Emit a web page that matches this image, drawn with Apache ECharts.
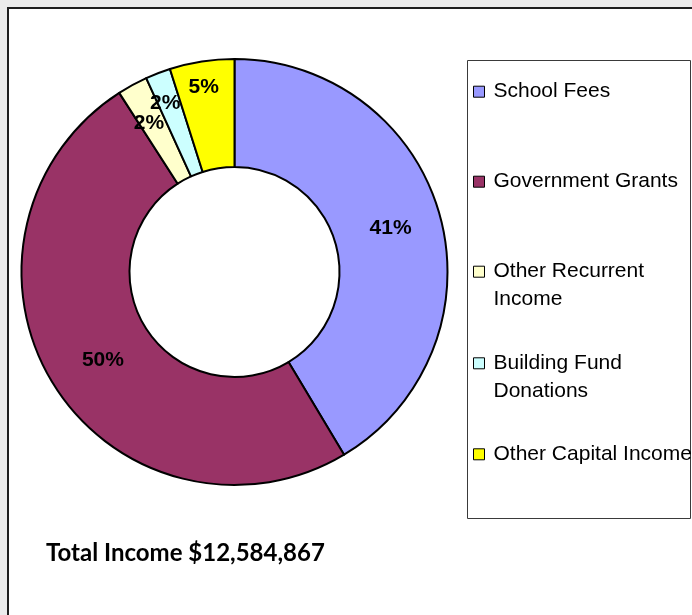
<!DOCTYPE html>
<html>
<head>
<meta charset="utf-8">
<script src="https://cdn.jsdelivr.net/npm/echarts@6/dist/echarts.min.js"></script>
<style>
html,body{margin:0;padding:0;background:#ececec;}
#c{width:692px;height:615px;}
</style>
</head>
<body>
<div id="c"></div>
<script>
// Data
var categories = ['School Fees', 'Government Grants', 'Other Recurrent Income', 'Building Fund Donations', 'Other Capital Income'];
var legendLabels = ['School Fees', 'Government Grants', 'Other Recurrent\nIncome', 'Building Fund\nDonations', 'Other Capital Income'];
var shares = [41.4, 49.5, 2.3, 1.9, 4.9];
var colors = ['#9999FF', '#993366', '#FFFFCC', '#CCFFFF', '#FFFF00'];
var totalText = 'Total Income $12,584,867';

var chart = echarts.init(document.getElementById('c'));

var labelShift = [{dx:0,dy:-1},{dx:6,dy:3},{dx:-8,dy:-7},{dx:-11,dy:-18},{dx:-6,dy:-25}];
var legendTops = [77.7, 167.7, 257.7, 349.3, 440.3];
var twoLine = [false, false, true, true, false];

var legends = categories.map(function(name, i){
  return {
    show: true,
    left: 473,
    top: legendTops[i],
    padding: 0,
    orient: 'vertical',
    selectedMode: false,
    data: [name],
    itemWidth: 15,
    itemHeight: twoLine[i] ? 39 : 11,
    icon: twoLine[i] ? 'path://M0,0h11v11h-11ZM15,39' : 'path://M0,0h11v11h-11ZM15,11',
    itemStyle: {borderColor: '#000', borderWidth: 1},
    formatter: function(){ return legendLabels[i]; },
    textStyle: {fontFamily: 'Liberation Sans, Arial', fontSize: 21, lineHeight: 28, color: '#000'}
  };
});

chart.setOption({
  animation: false,
  backgroundColor: '#ececec',
  graphic: [
    {type:'rect', z:-10, shape:{x:8, y:8, width:720, height:720}, style:{fill:'#ffffff', stroke:'#1f1f1f', lineWidth:2}},
    {type:'rect', z:-5, shape:{x:467.5, y:60.5, width:223, height:458}, style:{fill:'#ffffff', stroke:'#3a3a3a', lineWidth:1}}
  ],
  title: {
    text: totalText,
    left: 46,
    top: 541,
    padding: 0,
    textStyle: {fontFamily: 'Lato', fontWeight: 'bold', fontSize: 24, color: '#000'}
  },
  legend: legends,
  series: [{
    type: 'pie',
    center: [234.5, 272],
    radius: [105, 213],
    startAngle: 90,
    clockwise: true,
    avoidLabelOverlap: false,
    emphasis: {disabled: true},
    itemStyle: {borderColor: '#000', borderWidth: 2},
    label: {
      show: true,
      position: 'inside',
      formatter: function(p){ return Math.round(p.percent) + '%'; },
      fontFamily: 'Liberation Sans, Arial',
      fontWeight: 'bold',
      fontSize: 21,
      color: '#000'
    },
    labelLine: {show: false},
    labelLayout: function(p){ return labelShift[p.dataIndex]; },
    data: categories.map(function(name, i){
      return {name: name, value: shares[i], itemStyle: {color: colors[i]}};
    })
  }]
});
</script>
</body>
</html>
